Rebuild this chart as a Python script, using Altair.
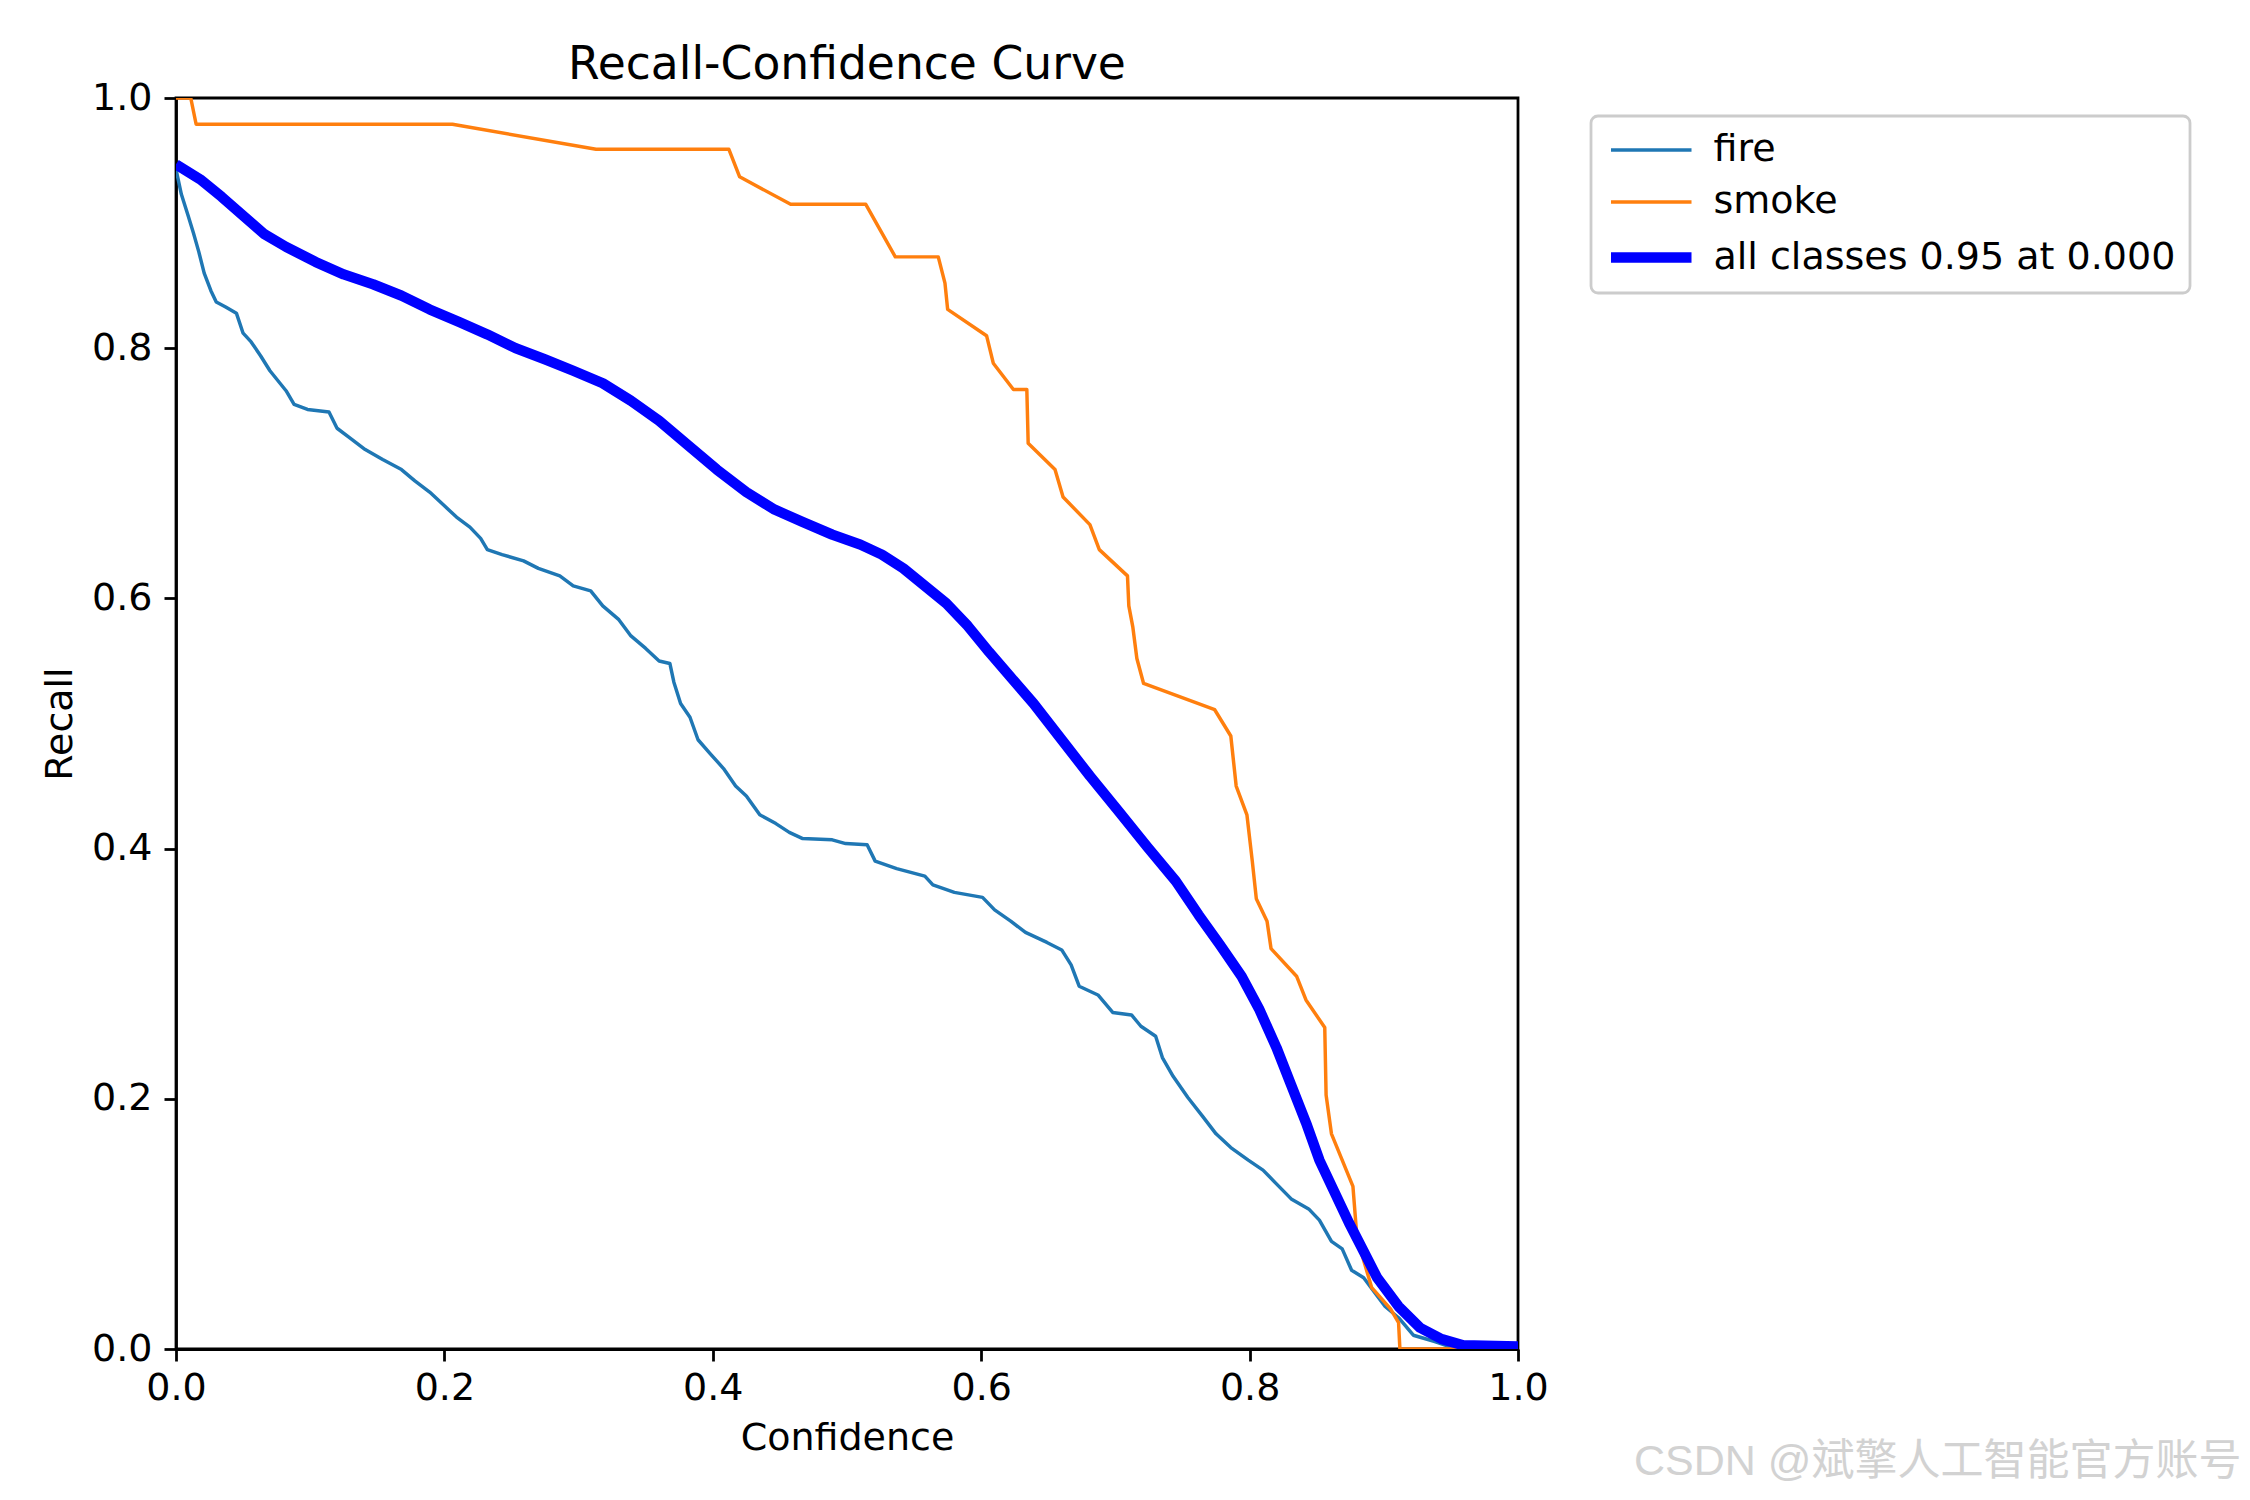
import altair as alt
import pandas as pd

# ---- data ----
fire_conf = [0.000,0.004,0.009,0.013,0.017,0.021,0.026,0.030,0.037,0.045,
             0.050,0.056,0.063,0.070,0.076,0.082,0.088,0.098,0.114,0.120,
             0.130,0.141,0.154,0.168,0.178,0.189,0.200,0.209,0.219,0.227,
             0.232,0.243,0.259,0.270,0.286,0.296,0.309,0.318,0.330,0.339,
             0.350,0.360,0.368,0.371,0.376,0.383,0.389,0.398,0.408,0.417,
             0.425,0.435,0.447,0.457,0.467,0.489,0.499,0.515,0.521,0.537,
             0.558,0.564,0.580,0.601,0.610,0.622,0.633,0.649,0.660,0.667,
             0.673,0.687,0.698,0.712,0.719,0.730,0.735,0.743,0.754,0.765,
             0.775,0.786,0.799,0.810,0.820,0.831,0.844,0.852,0.861,0.869,
             0.876,0.885,0.894,0.901,0.911,0.922,0.938,0.949,1.000]
fire_recall = [0.943,0.923,0.906,0.892,0.877,0.860,0.846,0.837,0.833,0.828,
               0.812,0.805,0.794,0.782,0.774,0.766,0.755,0.751,0.749,0.736,
               0.728,0.719,0.711,0.703,0.694,0.685,0.674,0.665,0.657,0.648,
               0.639,0.635,0.630,0.624,0.618,0.610,0.606,0.594,0.583,0.570,
               0.560,0.550,0.548,0.533,0.516,0.505,0.487,0.476,0.464,0.450,
               0.442,0.427,0.420,0.413,0.408,0.407,0.404,0.403,0.390,0.384,
               0.378,0.371,0.365,0.361,0.351,0.342,0.333,0.325,0.319,0.307,
               0.290,0.283,0.269,0.267,0.258,0.250,0.233,0.218,0.201,0.186,
               0.172,0.161,0.151,0.143,0.132,0.120,0.112,0.103,0.086,0.080,
               0.063,0.057,0.044,0.034,0.025,0.011,0.006,0.002,0.000]

smoke_conf = [0.000,0.011,0.015,0.206,0.313,0.412,0.420,0.458,0.514,0.525,
              0.536,0.568,0.573,0.575,0.604,0.609,0.624,0.634,0.635,0.655,
              0.661,0.681,0.688,0.709,0.710,0.713,0.716,0.721,0.774,0.786,
              0.790,0.798,0.802,0.805,0.813,0.816,0.835,0.842,0.856,0.857,
              0.861,0.877,0.880,0.891,0.905,0.911,0.912,1.000]
smoke_recall = [1.000,1.000,0.979,0.979,0.959,0.959,0.937,0.915,0.915,0.894,
                0.873,0.873,0.852,0.831,0.810,0.788,0.767,0.767,0.724,0.703,
                0.681,0.659,0.639,0.618,0.594,0.577,0.552,0.532,0.511,0.490,
                0.450,0.427,0.390,0.360,0.342,0.320,0.298,0.279,0.257,0.203,
                0.172,0.130,0.089,0.049,0.032,0.021,0.000,0.000]

all_conf = [0.000,0.018,0.034,0.050,0.066,0.082,0.104,0.125,0.147,0.168,
            0.189,0.211,0.232,0.253,0.275,0.296,0.318,0.339,0.360,0.382,
            0.403,0.425,0.446,0.467,0.489,0.510,0.526,0.542,0.558,0.574,
            0.590,0.606,0.622,0.639,0.660,0.681,0.703,0.724,0.745,0.762,
            0.778,0.794,0.807,0.820,0.831,0.842,0.852,0.863,0.874,0.885,
            0.895,0.911,0.927,0.943,0.959,1.000]
all_recall = [0.947,0.935,0.921,0.906,0.891,0.881,0.869,0.859,0.851,0.842,
              0.831,0.821,0.811,0.800,0.791,0.782,0.772,0.758,0.742,0.722,
              0.703,0.685,0.671,0.661,0.651,0.643,0.635,0.624,0.610,0.596,
              0.578,0.557,0.537,0.516,0.487,0.458,0.429,0.401,0.374,0.347,
              0.323,0.298,0.272,0.241,0.211,0.181,0.151,0.126,0.101,0.078,
              0.057,0.034,0.017,0.008,0.003,0.002]

series_names = ["fire", "smoke", "all classes 0.95 at 0.000"]
series_colors = ["#1f77b4", "#ff7f0e", "#0000ff"]
series_widths = [3.47, 3.47, 10.4]

x_ticks = [0.0, 0.2, 0.4, 0.6, 0.8, 1.0]
y_ticks = [0.0, 0.2, 0.4, 0.6, 0.8, 1.0]

title_text = "Recall-Confidence Curve"
watermark = "CSDN @斌擎人工智能官方账号"

# ---- build table ----
rows = []
for name, cs, rs in zip(series_names,
                        [fire_conf, smoke_conf, all_conf],
                        [fire_recall, smoke_recall, all_recall]):
    for i, (c, r) in enumerate(zip(cs, rs)):
        rows.append({"series": name, "conf": c, "recall": r, "idx": i})
df = pd.DataFrame(rows)

FONT = "DejaVu Sans"
FS = 38
W, H = 1342, 1251

lines = alt.Chart(df).mark_line(clip=True, strokeCap="butt", strokeJoin="round").encode(
    x=alt.X("conf:Q",
            scale=alt.Scale(domain=[0, 1], nice=False, zero=False),
            axis=alt.Axis(title="Confidence", values=x_ticks, format=".1f",
                          labelPadding=8, titlePadding=12, labelFlush=False)),
    y=alt.Y("recall:Q",
            scale=alt.Scale(domain=[0, 1], nice=False, zero=False),
            axis=alt.Axis(title="Recall", values=y_ticks, format=".1f",
                          labelPadding=12, titlePadding=12, labelFlush=False)),
    color=alt.Color("series:N",
                    scale=alt.Scale(domain=series_names, range=series_colors),
                    legend=alt.Legend(title=None)),
    strokeWidth=alt.StrokeWidth("series:N",
                                scale=alt.Scale(type="ordinal", domain=series_names,
                                                range=series_widths),
                                legend=alt.Legend(title=None)),
    order=alt.Order("idx:Q"),
    detail="series:N",
)

title = alt.Chart(pd.DataFrame({"t": [title_text]})).mark_text(
    align="center", baseline="alphabetic", fontSize=45.6, color="black", font=FONT,
).encode(
    x=alt.value(W / 2), y=alt.value(-19), text="t:N"
)

wm = alt.Chart(pd.DataFrame({"t": [watermark]})).mark_text(
    align="left", baseline="middle", fontSize=43, color="#d2d2d2",
    font="Liberation Sans, Noto Sans CJK SC",
).encode(
    x=alt.value(1458), y=alt.value(1364), text="t:N"
)

chart = alt.layer(lines, title, wm).properties(
    width=W,
    height=H,
    autosize=alt.AutoSizeParams(type="none"),
    padding={"left": 168, "top": 90, "right": 724, "bottom": 143},
).configure_view(
    stroke="black", strokeWidth=2.78
).configure_axis(
    labelFont=FONT, titleFont=FONT, labelFontSize=FS, titleFontSize=FS,
    labelColor="black", titleColor="black", titleFontWeight="normal",
    domainColor="black", domainWidth=2.78, tickColor="black", tickWidth=2.78,
    tickSize=12, grid=False,
).configure_legend(
    orient="none", legendX=1415, legendY=18, padding=14.5,
    strokeColor="#cccccc", strokeWidth=2.78, cornerRadius=7, fillColor="white",
    labelFont=FONT, labelFontSize=FS, labelColor="black", labelOffset=62,
    rowPadding=13, symbolType="M-1,0H3.6", symbolSize=1225, labelLimit=800,
)

chart.save("out.html", embed_options={"renderer": "svg", "actions": False})
